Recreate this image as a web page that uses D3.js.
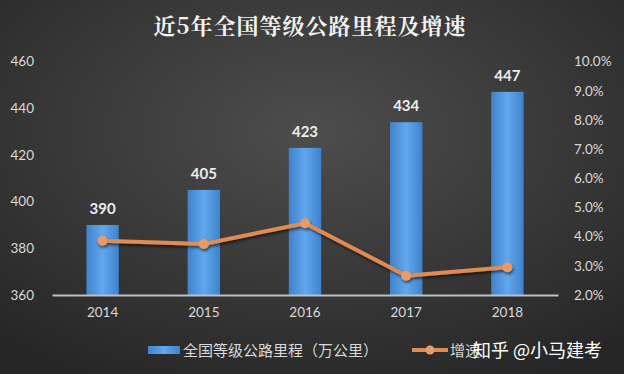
<!DOCTYPE html>
<html>
<head>
<meta charset="utf-8">
<script src="https://cdn.jsdelivr.net/npm/d3@7"></script>
<style>
  body { margin: 0; background: #333; }
  svg { display: block; }
</style>
</head>
<body>
<div class="chart"></div>
<script>
let years = ["2014", "2015", "2016", "2017", "2018"];
let mileage = [390, 405, 423, 434, 447];
let growth = [3.86, 3.75, 4.46, 2.66, 2.95];
let leftTicks = [360, 380, 400, 420, 440, 460];
let rightTicks = [2, 3, 4, 5, 6, 7, 8, 9, 10];
let title = "近5年全国等级公路里程及增速";
let barLegend = "全国等级公路里程（万公里）";
let lineLegend = "增速";
let watermark = "知乎 @小马建考";

let W = 624, H = 374;
let margin = { top: 61.5, right: 66, bottom: 79, left: 52 };
let width = W - margin.left - margin.right;
let height = H - margin.top - margin.bottom;
let latin = "Lato, 'Noto Sans CJK SC', sans-serif";
let cjk = "'Noto Sans CJK SC', sans-serif";

let svg = d3.select(".chart").append("svg")
    .attr("width", W)
    .attr("height", H);

let defs = svg.append("defs");
let bg = defs.append("radialGradient").attr("id", "bg")
    .attr("cx", "50%").attr("cy", "35%").attr("r", "75%");
bg.append("stop").attr("offset", "0%").attr("stop-color", "#4d4d4d");
bg.append("stop").attr("offset", "100%").attr("stop-color", "#262626");

let barGrad = defs.append("linearGradient").attr("id", "barGrad")
    .attr("x1", "0%").attr("x2", "100%").attr("y1", "0%").attr("y2", "0%");
barGrad.append("stop").attr("offset", "0%").attr("stop-color", "#3f82cc");
barGrad.append("stop").attr("offset", "50%").attr("stop-color", "#62a8ec");
barGrad.append("stop").attr("offset", "100%").attr("stop-color", "#3f82cc");

let shadow = defs.append("filter").attr("id", "shadow")
    .attr("x", "-10%").attr("y", "-30%").attr("width", "130%").attr("height", "160%");
shadow.append("feDropShadow")
    .attr("dx", 1).attr("dy", 2).attr("stdDeviation", 1.5)
    .attr("flood-color", "#000").attr("flood-opacity", 0.6);

svg.append("rect").attr("width", W).attr("height", H).attr("fill", "url(#bg)");

svg.append("text")
    .attr("x", 310).attr("y", 34)
    .attr("text-anchor", "middle")
    .attr("fill", "#f2f2f2")
    .attr("font-family", "'Noto Serif CJK SC', 'Noto Sans CJK SC', serif")
    .attr("font-size", 22)
    .attr("font-weight", "bold")
    .attr("letter-spacing", 1)
    .text(title);

let g = svg.append("g")
    .attr("transform", `translate(${margin.left}, ${margin.top})`);

let xScale = d3.scaleBand()
    .domain(years)
    .range([0, width])
    .paddingInner(0.68)
    .paddingOuter(0.34);

let yScale = d3.scaleLinear()
    .domain([360, 460])
    .range([height, 0]);

let y2Scale = d3.scaleLinear()
    .domain([2, 10])
    .range([height, 0]);

// left axis
let yAxis = d3.axisLeft(yScale).tickValues(leftTicks).tickSize(0).tickPadding(18);
g.append("g").call(yAxis)
    .call(s => s.select(".domain").remove())
    .selectAll("text")
    .attr("fill", "#d9d9d9")
    .attr("font-family", latin)
    .attr("font-size", 13.5);

// right axis
let y2Axis = d3.axisRight(y2Scale).tickValues(rightTicks).tickSize(0).tickPadding(16)
    .tickFormat(d => d.toFixed(1) + "%");
g.append("g").attr("transform", `translate(${width}, 0)`).call(y2Axis)
    .call(s => s.select(".domain").remove())
    .selectAll("text")
    .attr("fill", "#d9d9d9")
    .attr("font-family", latin)
    .attr("font-size", 13.5);

// bars
g.selectAll("rect.bar")
    .data(years)
    .enter()
    .append("rect")
    .attr("class", "bar")
    .attr("x", d => xScale(d))
    .attr("y", (d, i) => yScale(mileage[i]))
    .attr("width", xScale.bandwidth())
    .attr("height", (d, i) => height - yScale(mileage[i]))
    .attr("fill", "url(#barGrad)");

// bar labels
g.selectAll("text.val")
    .data(years)
    .enter()
    .append("text")
    .attr("class", "val")
    .attr("x", d => xScale(d) + xScale.bandwidth() / 2)
    .attr("y", (d, i) => yScale(mileage[i]) - 11)
    .attr("text-anchor", "middle")
    .attr("fill", "#ececec")
    .attr("font-family", latin)
    .attr("font-weight", "bold")
    .attr("font-size", 15)
    .text((d, i) => mileage[i]);

// x axis
let xAxis = d3.axisBottom(xScale).tickSize(0).tickPadding(12);
g.append("g").attr("transform", `translate(0, ${height})`).call(xAxis)
    .call(s => s.select(".domain").attr("stroke", "#bfbfbf").attr("stroke-width", 2))
    .selectAll("text")
    .attr("fill", "#d9d9d9")
    .attr("font-family", latin)
    .attr("font-size", 13.5);

// growth line
let line = d3.line()
    .x((d, i) => xScale(years[i]) + xScale.bandwidth() / 2)
    .y(d => y2Scale(d));

let lineG = g.append("g").attr("filter", "url(#shadow)");
lineG.append("path")
    .datum(growth)
    .attr("d", line)
    .attr("fill", "none")
    .attr("stroke", "#e08b52")
    .attr("stroke-width", 4)
    .attr("stroke-linejoin", "round");

lineG.selectAll("circle")
    .data(growth)
    .enter()
    .append("circle")
    .attr("cx", (d, i) => xScale(years[i]) + xScale.bandwidth() / 2)
    .attr("cy", d => y2Scale(d))
    .attr("r", 5)
    .attr("fill", "#e89a68");

// legend
let leg = svg.append("g");
leg.append("rect")
    .attr("x", 148).attr("y", 346).attr("width", 32).attr("height", 8)
    .attr("fill", "url(#barGrad)");
leg.append("text")
    .attr("x", 183).attr("y", 356)
    .attr("fill", "#d9d9d9")
    .attr("font-family", cjk)
    .attr("font-size", 15)
    .text(barLegend);
leg.append("line")
    .attr("x1", 412).attr("x2", 448).attr("y1", 350).attr("y2", 350)
    .attr("stroke", "#e08b52").attr("stroke-width", 4);
leg.append("circle")
    .attr("cx", 430).attr("cy", 350).attr("r", 4.5)
    .attr("fill", "#e89a68");
leg.append("text")
    .attr("x", 450).attr("y", 356)
    .attr("fill", "#d9d9d9")
    .attr("font-family", cjk)
    .attr("font-size", 15)
    .text(lineLegend);

// watermark
svg.append("text")
    .attr("x", 473).attr("y", 357)
    .attr("fill", "#ffffff")
    .attr("font-family", cjk)
    .attr("font-size", 18)
    .text(watermark);
</script>
</body>
</html>
